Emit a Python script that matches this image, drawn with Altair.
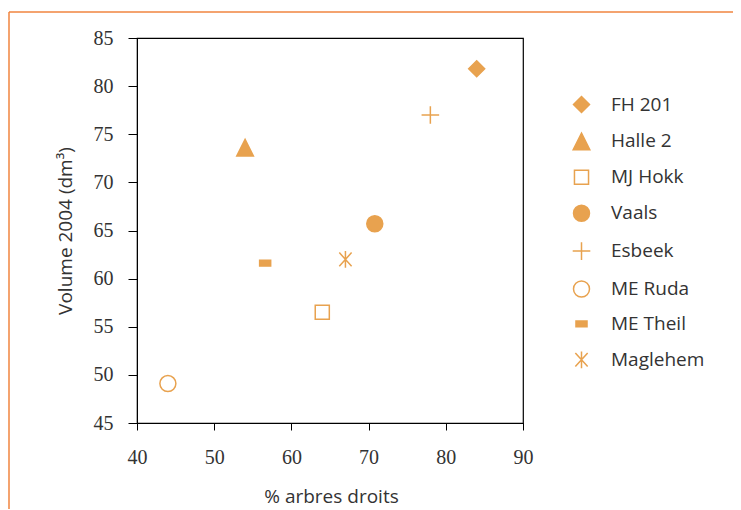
import altair as alt
import pandas as pd

names = ["FH 201", "Halle 2", "MJ Hokk", "Vaals", "Esbeek", "ME Ruda", "ME Theil", "Maglehem"]
pct = [84.0, 54.0, 64.0, 70.8, 78.0, 44.0, 56.6, 67.0]
vol = [81.8, 73.6, 56.5, 65.7, 77.0, 49.1, 61.6, 62.0]

ORANGE = "#E8A24F"
FRAME = "#F0853F"

shapes = [
    "diamond",
    "M0,-1.04L1.04,1.04L-1.04,1.04Z",
    "M-0.88,-0.88L0.88,-0.88L0.88,0.88L-0.88,0.88Z",
    "circle",
    "M-1.1,0L1.1,0M0,-1.1L0,1.1",
    "circle",
    "M-0.69,-0.36L0.69,-0.36L0.69,0.36L-0.69,0.36Z",
    "M0,-1.05L0,1.05M-0.77,-0.85L0.77,0.85M0.77,-0.85L-0.77,0.85",
]
fills = [ORANGE, ORANGE, "transparent", ORANGE, "transparent", "transparent", ORANGE, "transparent"]
strokes = [ORANGE] * len(names)

df = pd.DataFrame({"name": names, "pct": pct, "vol": vol})

leg = alt.Legend(title=None, orient="none", legendX=435, legendY=57, padding=0,
                 symbolSize=256, symbolStrokeWidth=1.5,
                 labelFont="Open Sans", labelFontSize=19, labelColor="#333333",
                 labelOffset=20, rowPadding=13.9, symbolOpacity=1)

W, H = 386, 385
PL, PT, PR, PB = 129, 30, 210, 86

points = alt.Chart(df).mark_point(size=256, strokeWidth=1.5, opacity=1).encode(
    x=alt.X("pct:Q", scale=alt.Scale(domain=[40, 90], nice=False, zero=False),
            axis=alt.Axis(values=[40, 50, 60, 70, 80, 90], title="% arbres droits",
                          tickSize=7, labelPadding=17, labelFlush=False,
                          titleX=194, titleY=73, titleBaseline="middle")),
    y=alt.Y("vol:Q", scale=alt.Scale(domain=[45, 85], nice=False, zero=False),
            axis=alt.Axis(values=[45, 50, 55, 60, 65, 70, 75, 80, 85], title="Volume 2004 (dm³)",
                          tickSize=9, labelPadding=15, labelFlush=False,
                          titleX=-72, titleY=192.5, titleBaseline="middle")),
    shape=alt.Shape("name:N", scale=alt.Scale(domain=names, range=shapes), legend=leg),
    fill=alt.Fill("name:N", scale=alt.Scale(domain=names, range=fills), legend=leg),
    stroke=alt.Stroke("name:N", scale=alt.Scale(domain=names, range=strokes), legend=leg),
)

frame_data = alt.Data(values=[{"k": 1}])
top_line = alt.Chart(frame_data).mark_rule(color=FRAME, strokeWidth=1.5).encode(
    x=alt.value(-128), x2=alt.value(W + PR), y=alt.value(-26))
left_line = alt.Chart(frame_data).mark_rule(color=FRAME, strokeWidth=1.5).encode(
    x=alt.value(-128), y=alt.value(-26), y2=alt.value(H + PB))

chart = alt.layer(top_line, left_line, points).properties(
    width=W, height=H,
    autosize=alt.AutoSizeParams(type="none"),
    padding={"left": PL, "top": PT, "right": PR, "bottom": PB},
).configure_view(stroke="black", strokeWidth=1.2).configure_axis(
    domainColor="black", tickColor="black", grid=False,
    labelFont="Liberation Serif", labelFontSize=20, labelColor="#333333",
    titleFont="Open Sans", titleFontSize=19, titleFontWeight="normal", titleColor="#333333",
)

chart.save("out.html", embed_options={"renderer": "svg", "actions": False})
